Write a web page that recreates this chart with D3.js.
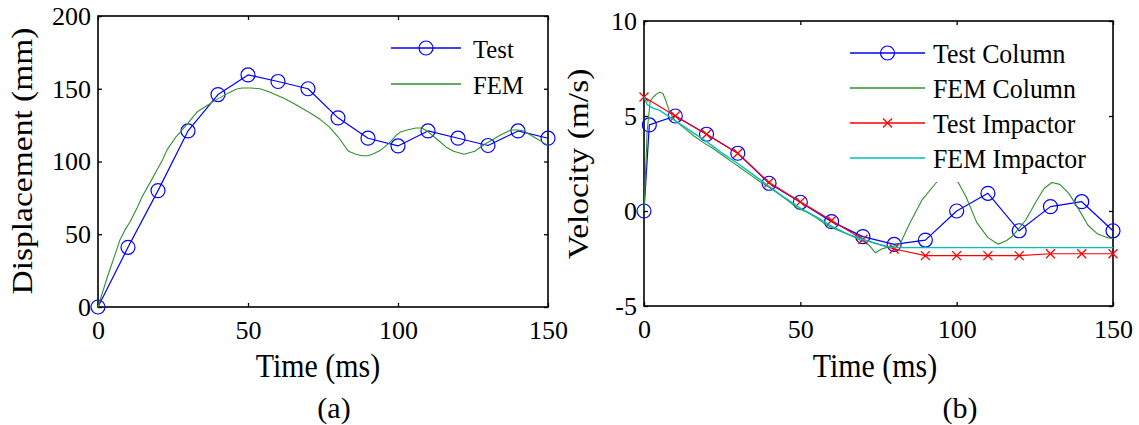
<!DOCTYPE html>
<html>
<head>
<meta charset="utf-8">
<script src="https://cdnjs.cloudflare.com/ajax/libs/d3/7.8.5/d3.min.js"></script>
<style>
  html, body { margin: 0; padding: 0; background: #fff; }
  svg { display: block; }
</style>
</head>
<body>
<svg id="chart" width="1139" height="425"></svg>
<script>
// ---- data ----
// (a) displacement
var timeTest = [0, 10, 20, 30, 40, 50, 60, 70, 80, 90, 100, 110, 120, 130, 140, 150];
var dispTest = [0, 41, 80, 121, 146, 159.5, 155, 150, 130, 116, 110.7, 121, 116, 111, 121, 116];
var timeFemDisp = [0, 1.5, 3.5, 5.5, 7.3, 9, 10.7, 13, 15, 17.5, 19.6, 21.5, 23, 26, 29, 33, 36, 39, 43.5, 46,
  48, 51, 54, 57, 59, 62, 66, 71, 74, 77, 80, 83.5, 86, 88, 90, 92, 94, 97, 99.4, 101,
  103, 106, 108, 110, 112, 114, 116, 118.5, 122, 125.6, 129, 131.5, 134, 137.6, 140, 142, 143.5, 146, 148, 150];
var dispFem = [0, 10, 23, 35, 46, 53, 58.6, 68, 77, 86, 94, 101, 108, 117, 124, 134, 138, 142, 147, 149.6,
  150.5, 150.5, 150, 148, 146, 143.5, 139, 133, 129, 124, 117, 107, 105, 104, 104, 105.5, 107.5, 112.5, 118, 120.5,
  121.6, 123, 123, 120.5, 117, 113.6, 110, 107, 105, 107, 112, 115, 118, 121.6, 121.6, 121, 119, 116, 113.5, 111];

// (b) velocity
var timeTestCol = [0, 1.7, 10, 20, 30, 40, 50, 60, 70, 80, 90, 100, 110, 120, 130, 140, 150];
var velTestCol = [0, 4.53, 5.0, 4.04, 3.04, 1.46, 0.46, -0.56, -1.35, -1.76, -1.53, 0, 0.93, -1.04, 0.23, 0.49, -1.04];
var timeFemCol = [0, 0.5, 1, 2, 3, 4, 5, 6, 7, 8, 9, 10, 13, 16, 19, 22, 25, 28, 31, 34,
  37, 40, 43, 46, 49, 52, 55, 58, 61, 64, 67, 70, 72, 74, 76, 78, 80, 82, 85, 89,
  93.5, 97, 100.5, 103, 106.4, 110, 113.3, 116, 118, 122, 125.6, 128, 130.5, 133, 136, 139, 142, 145, 148, 150];
var velFemCol = [0, 2, 4.2, 5.8, 6.0, 6.15, 6.25, 6.2, 5.8, 5.3, 5.0, 4.75, 4.35, 3.95, 3.6, 3.3, 2.95, 2.6, 2.25, 1.9,
  1.55, 1.25, 0.9, 0.55, 0.15, -0.05, -0.35, -0.7, -0.95, -1.15, -1.35, -1.6, -1.8, -2.2, -2.0, -1.9, -1.85, -1.7, -0.65, 0.6,
  1.5, 2.1, 1.5, 0.75, -0.6, -1.4, -1.75, -1.55, -1.3, -0.5, 0.55, 1.2, 1.5, 1.4, 0.9, 0.1, -0.75, -1.2, -1.4, -1.45];
var timeTestImp = [0, 10, 20, 30, 40, 50, 60, 70, 80, 90, 100, 110, 120, 130, 140, 150];
var velTestImp = [6.0, 5.0, 4.04, 3.04, 1.5, 0.48, -0.5, -1.5, -2.0, -2.35, -2.35, -2.35, -2.35, -2.25, -2.25, -2.25];
var timeFemImp = [0, 1, 3, 5, 10, 15, 20, 25, 30, 35, 40, 45, 50, 55, 60, 65, 70, 75, 78, 80, 150];
var velFemImp = [6.0, 5.6, 5.4, 5.3, 4.75, 4.2, 3.65, 3.05, 2.5, 1.9, 1.3, 0.7, 0.15, -0.3, -0.8, -1.2, -1.5, -1.75, -1.88, -1.93, -1.93];

var xTicks = [0, 50, 100, 150];
var dispTicks = [0, 50, 100, 150, 200];
var velTicks = [-5, 0, 5, 10];

var BLUE = "#0000ff", GREEN = "#2f912f", RED = "#ff0000", CYAN = "#00bfbf";
var SERIF = '"Liberation Serif", "Times New Roman", Times, serif';

var svg = d3.select("#chart");
svg.append("rect").attr("width", 1139).attr("height", 425).attr("fill", "#fff");

// helper: one panel with box, inward ticks on all four sides, tick labels
function makePanel(left, right, top, bottom, yDomain, yTickVals) {
  var x = d3.scaleLinear().domain([0, 150]).range([left, right]);
  var y = d3.scaleLinear().domain(yDomain).range([bottom, top]);
  var g = svg.append("g");

  g.append("g").attr("transform", "translate(0," + bottom + ")")
    .call(d3.axisBottom(x).tickValues(xTicks).tickSizeInner(-4).tickSizeOuter(0).tickPadding(14));
  g.append("g").attr("transform", "translate(0," + top + ")")
    .call(d3.axisTop(x).tickValues(xTicks).tickSizeInner(-4).tickSizeOuter(0).tickFormat(""));
  g.append("g").attr("transform", "translate(" + left + ",0)")
    .call(d3.axisLeft(y).tickValues(yTickVals).tickSizeInner(-4).tickSizeOuter(0).tickPadding(7)
      .tickFormat(function(d) { return d < 0 ? "-" + (-d) : d; }));
  g.append("g").attr("transform", "translate(" + right + ",0)")
    .call(d3.axisRight(y).tickValues(yTickVals).tickSizeInner(-4).tickSizeOuter(0).tickFormat(""));

  g.selectAll(".domain").remove();
  g.selectAll(".tick line").attr("stroke", "#000").attr("stroke-width", 1.3);
  g.selectAll(".tick text").attr("fill", "#000").style("font-size", "26px");

  g.append("rect")
    .attr("x", left).attr("y", top)
    .attr("width", right - left).attr("height", bottom - top)
    .attr("fill", "none").attr("stroke", "#000").attr("stroke-width", 1.6);

  return { x: x, y: y, g: g };
}

function drawLine(p, xs, ys, color, width) {
  var pts = d3.zip(xs, ys);
  p.g.append("path")
    .datum(pts)
    .attr("fill", "none")
    .attr("stroke", color)
    .attr("stroke-width", width)
    .attr("stroke-linejoin", "round")
    .attr("d", d3.line().x(function(d) { return p.x(d[0]); }).y(function(d) { return p.y(d[1]); }));
}

function drawCircles(p, xs, ys) {
  p.g.selectAll(null)
    .data(d3.zip(xs, ys))
    .enter()
    .append("circle")
    .attr("cx", function(d) { return p.x(d[0]); })
    .attr("cy", function(d) { return p.y(d[1]); })
    .attr("r", 7)
    .attr("fill", "none")
    .attr("stroke", BLUE)
    .attr("stroke-width", 1.2);
}

function crossPath(cx, cy, s) {
  return "M" + (cx - s) + "," + (cy - s) + "L" + (cx + s) + "," + (cy + s) +
         "M" + (cx - s) + "," + (cy + s) + "L" + (cx + s) + "," + (cy - s);
}

function drawCrosses(p, xs, ys) {
  p.g.selectAll(null)
    .data(d3.zip(xs, ys))
    .enter()
    .append("path")
    .attr("d", function(d) { return crossPath(p.x(d[0]), p.y(d[1]), 4.5); })
    .attr("stroke", RED)
    .attr("stroke-width", 1.3)
    .attr("fill", "none");
}

function legend(items, boxX, boxY, boxW, boxH, lineX0, lineX1, textX, row0, rowStep, fontSize, sx) {
  var lg = svg.append("g");
  lg.append("rect").attr("x", boxX).attr("y", boxY).attr("width", boxW).attr("height", boxH).attr("fill", "#fff");
  items.forEach(function(it, i) {
    var yy = row0 + i * rowStep;
    lg.append("line").attr("x1", lineX0).attr("x2", lineX1).attr("y1", yy).attr("y2", yy)
      .attr("stroke", it.color).attr("stroke-width", it.width);
    var mx = (lineX0 + lineX1) / 2;
    if (it.marker === "o") {
      lg.append("circle").attr("cx", mx).attr("cy", yy).attr("r", 7)
        .attr("fill", "none").attr("stroke", it.color).attr("stroke-width", 1.2);
    } else if (it.marker === "x") {
      lg.append("path").attr("d", crossPath(mx, yy, 4.5)).attr("stroke", it.color).attr("stroke-width", 1.3);
    }
    lg.append("text")
      .attr("transform", "translate(" + textX + "," + (yy + 10) + ") scale(" + sx + ",1)")
      .style("font-size", fontSize + "px")
      .text(it.label);
  });
}

function hLabel(txt, cx, by, size, sx) {
  svg.append("text")
    .attr("transform", "translate(" + cx + "," + by + ") scale(" + sx + ",1)")
    .attr("text-anchor", "middle")
    .style("font-size", size + "px")
    .text(txt);
}

function vLabel(txt, bx, cy, size, sy) {
  svg.append("text")
    .attr("transform", "translate(" + bx + "," + cy + ") rotate(-90) scale(1," + sy + ")")
    .attr("text-anchor", "middle")
    .style("font-size", size + "px")
    .text(txt);
}

// ---- panel (a) ----
var pa = makePanel(98, 548, 16, 307, [0, 200], dispTicks);
drawLine(pa, timeTest, dispTest, BLUE, 1.2);
drawCircles(pa, timeTest, dispTest);
drawLine(pa, timeFemDisp, dispFem, GREEN, 1.1);
legend([
  { label: "Test", color: BLUE, width: 1.3, marker: "o" },
  { label: "FEM", color: GREEN, width: 1.6, marker: null }
], 383, 26, 160, 80, 391, 461, 473, 48, 36, 26, 0.95);

hLabel("Time (ms)", 318, 377, 34, 0.88);
hLabel("(a)", 334, 418, 30, 1);
vLabel("Displacement (mm)", 32, 161, 33.5, 0.88);

// ---- panel (b) ----
var pb = makePanel(644, 1113, 21, 306, [-5, 10], velTicks);
drawLine(pb, timeTestCol, velTestCol, BLUE, 1.2);
drawCircles(pb, timeTestCol, velTestCol);
drawLine(pb, timeFemCol, velFemCol, GREEN, 1.1);
drawLine(pb, timeTestImp, velTestImp, RED, 1.2);
drawCrosses(pb, timeTestImp, velTestImp);
drawLine(pb, timeFemImp, velFemImp, CYAN, 1.4);
legend([
  { label: "Test Column", color: BLUE, width: 1.3, marker: "o" },
  { label: "FEM Column", color: GREEN, width: 1.6, marker: null },
  { label: "Test Impactor", color: RED, width: 1.3, marker: "x" },
  { label: "FEM Impactor", color: CYAN, width: 1.4, marker: null }
], 838, 28, 270, 154, 850, 925, 933, 53, 35, 27.5, 0.94);

hLabel("Time (ms)", 875, 377, 34, 0.88);
hLabel("(b)", 960, 418, 30, 1);
vLabel("Velocity (m/s)", 588, 164, 33.5, 0.88);

// every label in a Times-like serif face
svg.selectAll("text").style("font-family", SERIF).attr("fill", "#000");
</script>
</body>
</html>
